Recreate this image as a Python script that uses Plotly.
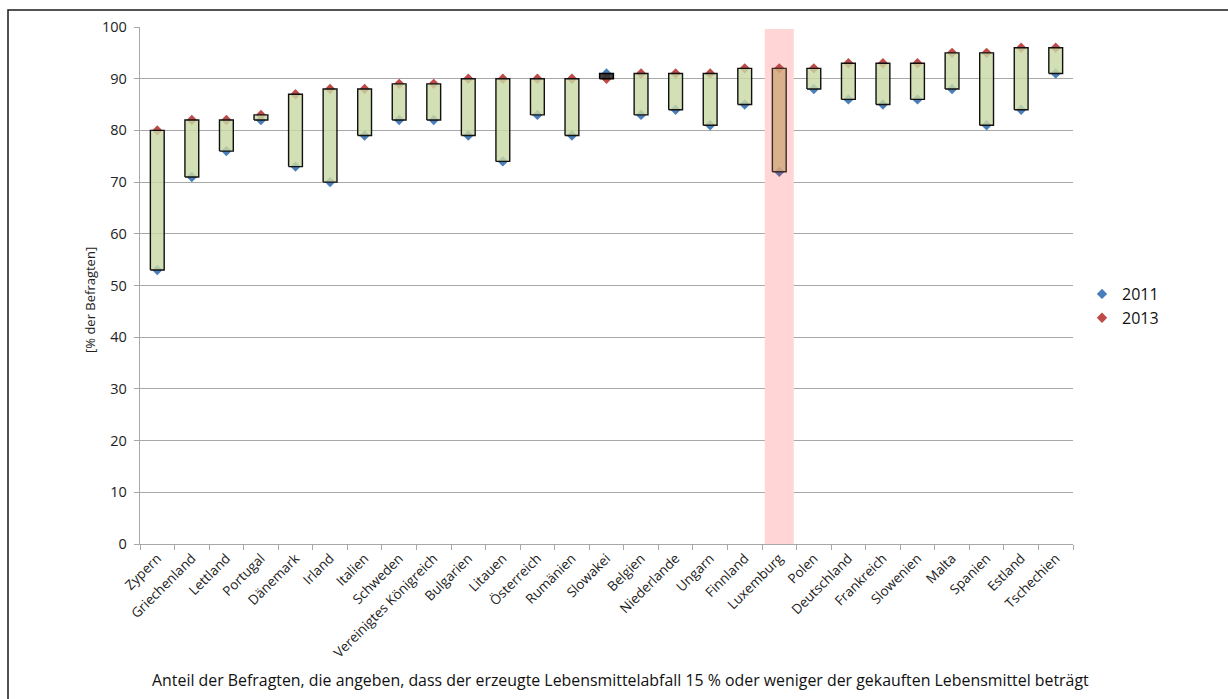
import plotly.graph_objects as go

# Survey shares per country, 2011 and 2013 (% of respondents)
countries = [
    "Zypern", "Griechenland", "Lettland", "Portugal", "Dänemark", "Irland",
    "Italien", "Schweden", "Vereinigtes Königreich", "Bulgarien", "Litauen",
    "Österreich", "Rumänien", "Slowakei", "Belgien", "Niederlande", "Ungarn",
    "Finnland", "Luxemburg", "Polen", "Deutschland", "Frankreich",
    "Slowenien", "Malta", "Spanien", "Estland", "Tschechien",
]
values_2011 = [53, 71, 76, 82, 73, 70, 79, 82, 82, 79, 74, 83, 79, 91, 83,
               84, 81, 85, 72, 88, 86, 85, 86, 88, 81, 84, 91]
values_2013 = [80, 82, 82, 83, 87, 88, 88, 89, 89, 90, 90, 90, 90, 90, 91,
               91, 91, 92, 92, 92, 93, 93, 93, 95, 95, 96, 96]
y_ticks = [0, 10, 20, 30, 40, 50, 60, 70, 80, 90, 100]
highlight = "Luxemburg"

FONT = "Open Sans"
GRID = "#A8A8A8"
BLUE = "#4A7EBB"
RED = "#BE4B48"

idx = list(range(len(countries)))
hl = countries.index(highlight)
half_w = 0.2

fig = go.Figure()

# Markers for both years (drawn first so the boxes sit on top of them)
blue_cols = [("#6B6799" if i == hl else BLUE) for i in idx]
fig.add_trace(go.Scatter(
    x=idx, y=values_2011, mode="markers", name="2011",
    marker=dict(symbol="diamond", size=8, color=blue_cols, line=dict(width=0)),
))
fig.add_trace(go.Scatter(
    x=idx, y=values_2013, mode="markers", name="2013",
    marker=dict(symbol="diamond", size=8, color=RED, line=dict(width=0)),
))


def box_path(indices):
    xs, ys = [], []
    for i in indices:
        lo = min(values_2011[i], values_2013[i])
        hi = max(values_2011[i], values_2013[i])
        xs += [i - half_w, i + half_w, i + half_w, i - half_w, i - half_w, None]
        ys += [lo, lo, hi, hi, lo, None]
    return xs, ys


up = [i for i in idx if values_2013[i] >= values_2011[i] and i != hl]
down = [i for i in idx if values_2013[i] < values_2011[i]]

# Up bars (increase 2011 -> 2013)
xs, ys = box_path(up)
fig.add_trace(go.Scatter(
    x=xs, y=ys, mode="lines", fill="toself",
    fillcolor="rgba(201,216,164,0.82)",
    line=dict(color="#111111", width=1.4), showlegend=False, hoverinfo="skip",
))
# Highlighted country
xs, ys = box_path([hl])
fig.add_trace(go.Scatter(
    x=xs, y=ys, mode="lines", fill="toself",
    fillcolor="rgba(210,170,128,0.85)",
    line=dict(color="#3E2A26", width=1.4), showlegend=False, hoverinfo="skip",
))
# Down bars (decrease)
xs, ys = box_path(down)
fig.add_trace(go.Scatter(
    x=xs, y=ys, mode="lines", fill="toself",
    fillcolor="rgba(45,45,45,0.9)",
    line=dict(color="#000000", width=1.4), showlegend=False, hoverinfo="skip",
))

# Geometry of the plotting area in pixels
W, H = 1228, 699
L, R, T, B = 140, 155, 27, 155
pw, ph = W - L - R, H - T - B


def px_x(p):
    return (p - L) / pw


def px_y(p):
    return (H - B - p) / ph


shapes = [
    # highlight band behind the selected country
    dict(type="rect", xref="x", yref="y", x0=hl - 0.42, x1=hl + 0.42,
         y0=0, y1=99.6, fillcolor="#FFD5D5", line=dict(width=0),
         layer="between"),
    # chart frame
    dict(type="rect", xref="paper", yref="paper",
         x0=px_x(8), x1=px_x(1260), y0=px_y(730), y1=px_y(10),
         line=dict(color="#1A1A1A", width=1.5), fillcolor="rgba(0,0,0,0)",
         layer="above"),
]

annotations = [
    dict(text="[% der Befragten]", xref="paper", yref="paper",
         x=px_x(90), y=px_y(300), textangle=-90, showarrow=False,
         font=dict(family=FONT, size=13, color="#222222"),
         xanchor="center", yanchor="middle"),
    dict(text="Anteil der Befragten, die angeben, dass der erzeugte "
              "Lebensmittelabfall 15 % oder weniger der gekauften "
              "Lebensmittel beträgt",
         xref="paper", yref="paper", x=px_x(620), y=px_y(680),
         showarrow=False, font=dict(family=FONT, size=15.9, color="#111111"),
         xanchor="center", yanchor="middle"),
]

fig.update_layout(
    width=W, height=H,
    margin=dict(l=L, r=R, t=T, b=B),
    paper_bgcolor="white", plot_bgcolor="white",
    font=dict(family=FONT, color="#222222"),
    showlegend=True,
    legend=dict(x=px_x(1082), y=px_y(277), xanchor="left", yanchor="top",
                font=dict(family=FONT, size=16, color="#111111"),
                bgcolor="rgba(0,0,0,0)", itemwidth=30, tracegroupgap=0),
    shapes=shapes,
    annotations=annotations,
)

fig.update_xaxes(
    range=[-0.5, len(countries) - 0.5],
    tickmode="array", tickvals=idx, ticktext=countries,
    tickangle=-45, ticks="", showgrid=False, zeroline=False,
    showline=True, linecolor=GRID, linewidth=1.4,
    tickfont=dict(family=FONT, size=13.5, color="#222222"),
    minor=dict(tickmode="array",
               tickvals=[i - 0.5 for i in range(len(countries) + 1)],
               ticks="outside", ticklen=5, tickcolor=GRID, tickwidth=1.4,
               showgrid=False),
)
fig.update_yaxes(
    range=[0, 100], tickmode="array", tickvals=y_ticks,
    ticks="outside", ticklen=5, tickcolor=GRID, tickwidth=1.4,
    showgrid=True, gridcolor=GRID, gridwidth=1.4, zeroline=False,
    showline=True, linecolor=GRID, linewidth=1.4,
    ticklabelstandoff=4,
    tickfont=dict(family=FONT, size=14.5, color="#222222"),
)

fig.write_html("out.html")
